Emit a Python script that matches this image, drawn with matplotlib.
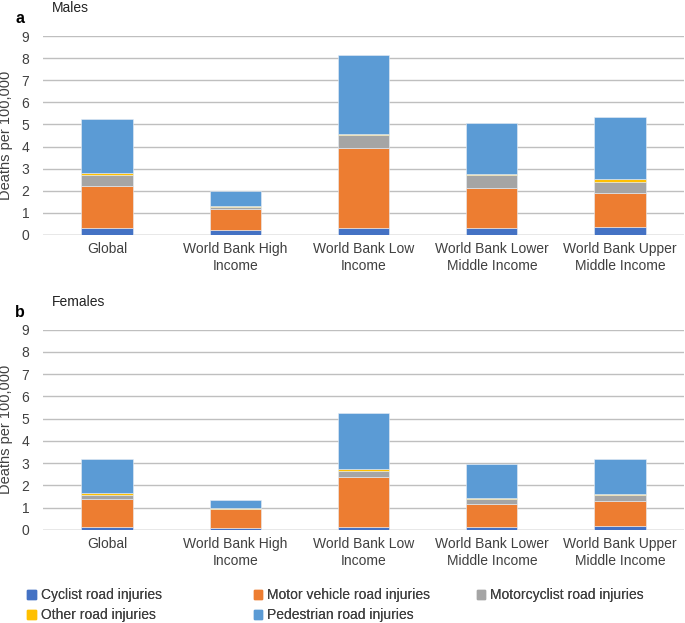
import matplotlib
matplotlib.use("Agg")
import matplotlib.pyplot as plt
from matplotlib.patches import Patch
import numpy as np

plt.rcParams['font.family'] = ['Liberation Sans', 'DejaVu Sans']

categories = ["Global", "World Bank High\nIncome", "World Bank Low\nIncome",
              "World Bank Lower\nMiddle Income", "World Bank Upper\nMiddle Income"]
series = ["Cyclist road injuries", "Motor vehicle road injuries",
          "Motorcyclist road injuries", "Other road injuries",
          "Pedestrian road injuries"]
colors = ["#4472C4", "#ED7D31", "#A5A5A5", "#FFC000", "#5B9BD5"]

# males, per series, per category
males_cyclist = [0.30, 0.23, 0.32, 0.32, 0.35]
males_motor = [1.93, 0.93, 3.63, 1.81, 1.55]
males_moto = [0.48, 0.12, 0.57, 0.57, 0.50]
males_other = [0.11, 0.05, 0.06, 0.08, 0.12]
males_ped = [2.44, 0.67, 3.56, 2.30, 2.81]

# females
females_cyclist = [0.13, 0.10, 0.13, 0.12, 0.18]
females_motor = [1.25, 0.82, 2.25, 1.05, 1.13]
females_moto = [0.18, 0.04, 0.27, 0.22, 0.25]
females_other = [0.09, 0.02, 0.08, 0.04, 0.05]
females_ped = [1.52, 0.37, 2.53, 1.52, 1.57]

males = [males_cyclist, males_motor, males_moto, males_other, males_ped]
females = [females_cyclist, females_motor, females_moto, females_other, females_ped]

txt = "#404040"

fig = plt.figure(figsize=(6.85, 6.23), dpi=100)
ax1 = fig.add_axes([0.0628, 0.6228, 0.936, 0.3194])
ax2 = fig.add_axes([0.0628, 0.1493, 0.936, 0.3218])


def draw(ax, data):
    x = np.arange(len(categories))
    bottom = np.zeros(len(categories))
    for vals, c in zip(data, colors):
        ax.bar(x, vals, 0.4, bottom=bottom, color=c, edgecolor="#e8eef5",
               linewidth=0.4, zorder=3)
        bottom += np.array(vals)
    ax.set_xlim(-0.5, len(categories) - 0.5)
    ax.set_ylim(0, 9)
    ax.set_yticks(range(10))
    ax.set_xticks(x)
    ax.set_xticklabels(categories, fontsize=10, color=txt, linespacing=1.3)
    ax.tick_params(length=0, labelsize=10, labelcolor=txt)
    ax.tick_params(axis="y", pad=10)
    ax.tick_params(axis="x", pad=5)
    ax.grid(axis="y", color="#bfbfbf", linewidth=1.0, zorder=0)
    for s in ax.spines.values():
        s.set_visible(False)
    ax.axhline(0, color="#bfbfbf", linewidth=1.0, zorder=1)
    ax.set_ylabel("Deaths per 100,000", fontsize=10.5, color=txt, labelpad=6)


draw(ax1, males)
draw(ax2, females)

fig.text(0.076, 0.987, "Males", fontsize=10, color="#222222", va="center")
fig.text(0.022, 0.970, "a", fontsize=11.5, fontweight="bold", va="center")
fig.text(0.076, 0.515, "Females", fontsize=10, color="#222222", va="center")
fig.text(0.022, 0.499, "b", fontsize=11.5, fontweight="bold", va="center")

# legend drawn as three columns, row order as in the source
handles = [Patch(color=c) for c in colors]
cols = [(0.040, [0, 3]), (0.371, [1, 4]), (0.696, [2])]
for xpos, idx in cols:
    leg = fig.legend([handles[i] for i in idx], [series[i] for i in idx],
                     loc="upper left", bbox_to_anchor=(xpos, 0.056),
                     frameon=False, fontsize=10, handlelength=0.6,
                     handleheight=0.6, handletextpad=0.35, labelspacing=0.45,
                     borderpad=0, borderaxespad=0)
    for t in leg.get_texts():
        t.set_color(txt)
    fig.add_artist(leg)

fig.savefig("out.png", dpi=100)
